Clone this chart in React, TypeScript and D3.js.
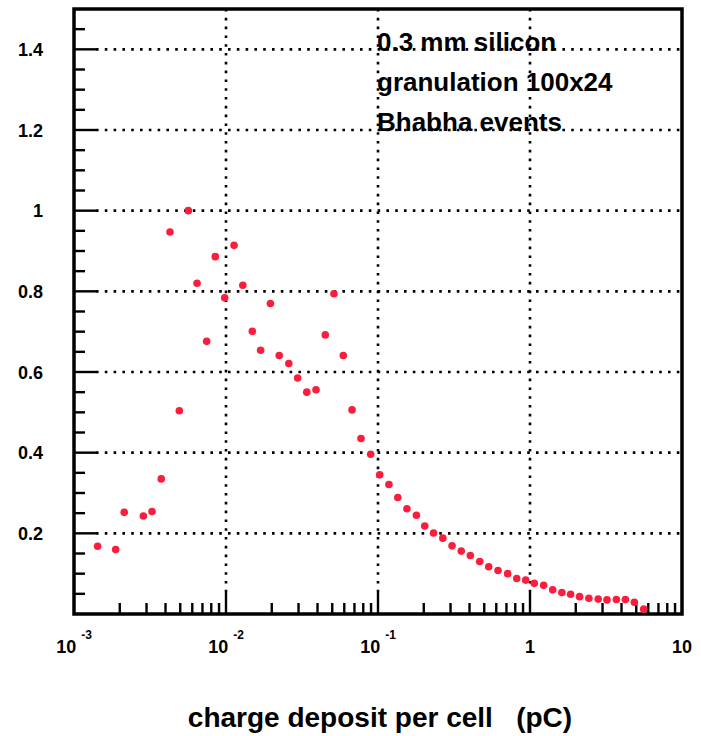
import { useEffect, useRef } from 'react';
import * as d3 from 'd3';

// charge deposit per cell (pC)
const charge = [
  0.00143, 0.00188, 0.00214, 0.00286, 0.00326, 0.00375, 0.00428, 0.00493, 0.00565, 0.00645,
  0.00746, 0.0085, 0.0098, 0.0113, 0.0129, 0.0149, 0.0169, 0.0196, 0.0224, 0.0259,
  0.0296, 0.034, 0.0391, 0.045, 0.0513, 0.0591, 0.0675, 0.0773, 0.0895, 0.1026,
  0.118, 0.135, 0.155, 0.179, 0.203, 0.232, 0.267, 0.307, 0.353, 0.405,
  0.467, 0.535, 0.616, 0.713, 0.818, 0.937, 1.067, 1.23, 1.41, 1.62,
  1.85, 2.12, 2.44, 2.81, 3.21, 3.7, 4.24, 4.86, 5.6,
];
const entries = [
  0.168, 0.16, 0.252, 0.243, 0.254, 0.335, 0.947, 0.504, 1.0, 0.82,
  0.676, 0.886, 0.784, 0.914, 0.815, 0.701, 0.654, 0.77, 0.641, 0.621,
  0.585, 0.55, 0.556, 0.692, 0.794, 0.641, 0.506, 0.435, 0.396, 0.345,
  0.321, 0.289, 0.261, 0.245, 0.218, 0.201, 0.188, 0.169, 0.156, 0.145,
  0.13, 0.117, 0.108, 0.1, 0.088, 0.084, 0.076, 0.071, 0.06, 0.053,
  0.049, 0.043, 0.039, 0.037, 0.035, 0.036, 0.036, 0.029, 0.012,
];
const yTicks = [0.2, 0.4, 0.6, 0.8, 1, 1.2, 1.4];
const yTickLabels = ['0.2', '0.4', '0.6', '0.8', '1', '1.2', '1.4'];
const xDecades = [0.001, 0.01, 0.1, 1, 10];
const xExponents = ['-3', '-2', '-1', '', ''];
const xPlainLabels = ['', '', '', '1', '10'];
const notes = ['0.3 mm silicon', 'granulation 100x24', 'Bhabha events'];

const W = 701;
const H = 736;
const FONT = '"Liberation Sans", Arial, Helvetica, sans-serif';

export default function App() {
  const svgRef = useRef<SVGSVGElement>(null);

  useEffect(() => {
    const root = d3.select(svgRef.current);
    root.selectAll('*').remove();

    const left = 74, right = 682, top = 9, bottom = 614;

    const x = d3.scaleLog().domain([0.001, 10]).range([left, right]);
    const y = d3.scaleLinear().domain([0, 1.5]).range([bottom, top]);

    const svg = root.attr('width', W).attr('height', H);
    svg.append('rect').attr('width', W).attr('height', H).attr('fill', 'white');

    // grid
    const grid = svg.append('g').attr('stroke', 'black').attr('stroke-width', 2.6)
      .attr('stroke-dasharray', '2.6 6.2');
    grid.selectAll('line.h').data(yTicks).enter().append('line')
      .attr('x1', left + 22).attr('x2', right)
      .attr('y1', d => y(d)).attr('y2', d => y(d));
    grid.selectAll('line.v').data([0.01, 0.1, 1]).enter().append('line')
      .attr('x1', d => x(d)).attr('x2', d => x(d))
      .attr('y1', top).attr('y2', bottom - 22);

    // ticks
    const ticks = svg.append('g').attr('stroke', 'black').attr('stroke-width', 2.4);
    const yMinor = d3.range(1, 30).map(i => i * 0.05);
    ticks.selectAll('line.ym').data(yMinor).enter().append('line')
      .attr('x1', left).attr('y1', d => y(d)).attr('y2', d => y(d))
      .attr('x2', d => (Math.abs(d / 0.2 - Math.round(d / 0.2)) < 1e-6 ? left + 22 : left + 11));
    const xMinor: number[] = [];
    [0.001, 0.01, 0.1, 1].forEach(dec => {
      for (let k = 2; k <= 9; k++) xMinor.push(dec * k);
    });
    ticks.selectAll('line.xm').data(xMinor).enter().append('line')
      .attr('x1', d => x(d)).attr('x2', d => x(d))
      .attr('y1', bottom).attr('y2', bottom - 11);
    ticks.selectAll('line.xM').data(xDecades.slice(1, 4)).enter().append('line')
      .attr('x1', d => x(d)).attr('x2', d => x(d))
      .attr('y1', bottom).attr('y2', bottom - 22);

    // frame
    svg.append('rect')
      .attr('x', left).attr('y', top)
      .attr('width', right - left).attr('height', bottom - top)
      .attr('fill', 'none').attr('stroke', 'black').attr('stroke-width', 3.5);

    // data points
    svg.append('g').selectAll('circle')
      .data(charge.map((c, i) => [c, entries[i]]))
      .enter().append('circle')
      .attr('cx', d => x(d[0]))
      .attr('cy', d => y(d[1]))
      .attr('r', 3.8)
      .attr('fill', '#fa1e3c');

    // y labels
    svg.append('g').selectAll('text').data(yTicks).enter().append('text')
      .attr('x', 43).attr('y', d => y(d) + 6.5)
      .attr('text-anchor', 'end')
      .attr('font-family', FONT).attr('font-weight', 'bold').attr('font-size', 18)
      .text((d, i) => yTickLabels[i]);

    // x labels
    const xl = svg.append('g').attr('font-family', FONT).attr('font-weight', 'bold');
    xDecades.forEach((d, i) => {
      const t = xl.append('text')
        .attr('x', x(d)).attr('y', 653)
        .attr('text-anchor', 'middle').attr('font-size', 18);
      if (xExponents[i]) {
        t.append('tspan').text('10');
        t.append('tspan').attr('dx', 5).attr('dy', -14).attr('font-size', 12).text(xExponents[i]);
      } else {
        t.text(xPlainLabels[i]);
      }
    });

    // axis title
    svg.append('text')
      .attr('x', 380).attr('y', 727)
      .attr('text-anchor', 'middle')
      .attr('font-family', FONT).attr('font-weight', 'bold').attr('font-size', 28)
      .style('white-space', 'pre')
      .text('charge deposit per cell   (pC)');

    // notes
    svg.append('g').selectAll('text').data(notes).enter().append('text')
      .attr('x', 377).attr('y', (d, i) => 51 + i * 40)
      .attr('font-family', FONT).attr('font-weight', 'bold').attr('font-size', 26)
      .text(d => d);
  }, []);

  return <svg ref={svgRef} style={{ position: 'absolute', left: 0, top: 0 }}></svg>;
}
